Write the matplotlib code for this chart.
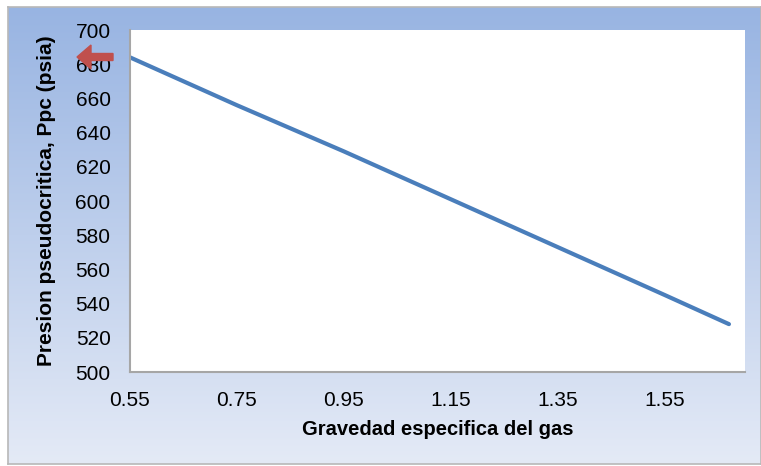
import numpy as np
import matplotlib.pyplot as plt

# gas specific gravity vs pseudocritical pressure
gravedad = [0.55, 0.75, 0.95, 1.15, 1.35, 1.55, 1.67]
ppc = [684, 656, 629, 601, 573, 545, 528]

W, H = 761, 466
fig = plt.figure(figsize=(W / 100, H / 100), dpi=100)
plt.rcParams['font.family'] = ['Liberation Sans', 'DejaVu Sans']

# gradient panel behind the chart
bg = fig.add_axes([8 / W, 2 / H, 753 / W, 457 / H], zorder=0)
top = np.array([152, 180, 226]) / 255
bot = np.array([228, 234, 246]) / 255
t = np.linspace(0, 1, 256)[:, None]
grad = (top[None, :] * (1 - t) + bot[None, :] * t)[:, None, :]
bg.imshow(grad, aspect='auto', extent=[0, 1, 0, 1])
bg.set_xticks([])
bg.set_yticks([])
for s in bg.spines.values():
    s.set_color('#b8b8b8')
    s.set_linewidth(1.2)

ax = fig.add_axes([130 / W, 94 / H, 615 / W, 342 / H], zorder=1)
ax.set_facecolor('white')
ax.plot(gravedad, ppc, color='#4a7ebb', linewidth=3.0, solid_capstyle='round')

ax.set_xlim(0.55, 1.70)
ax.set_ylim(500, 700)
ax.set_xticks([0.55, 0.75, 0.95, 1.15, 1.35, 1.55])
ax.set_yticks(range(500, 701, 20))
ax.tick_params(length=0, labelsize=15)
ax.tick_params(axis='y', pad=14)
ax.tick_params(axis='x', pad=14)
for s in ['top', 'right']:
    ax.spines[s].set_visible(False)
for s in ['left', 'bottom']:
    ax.spines[s].set_color('#a6a6a6')
    ax.spines[s].set_linewidth(1.5)

ax.set_xlabel('Gravedad especifica del gas', fontsize=14.5, fontweight='bold', labelpad=7)
ax.set_ylabel('Presion pseudocritica, Ppc (psia)', fontsize=15, fontweight='bold', labelpad=14)

# red arrow marker near the top of the y axis
fig.patches.append(plt.matplotlib.patches.FancyArrow(
    113 / W, 1 - 57 / H, -22 / W, 0, width=7 / H, head_width=24 / H,
    head_length=14 / W, color='#c0504d', transform=fig.transFigure, zorder=5))

fig.savefig('out.png', dpi=100)
